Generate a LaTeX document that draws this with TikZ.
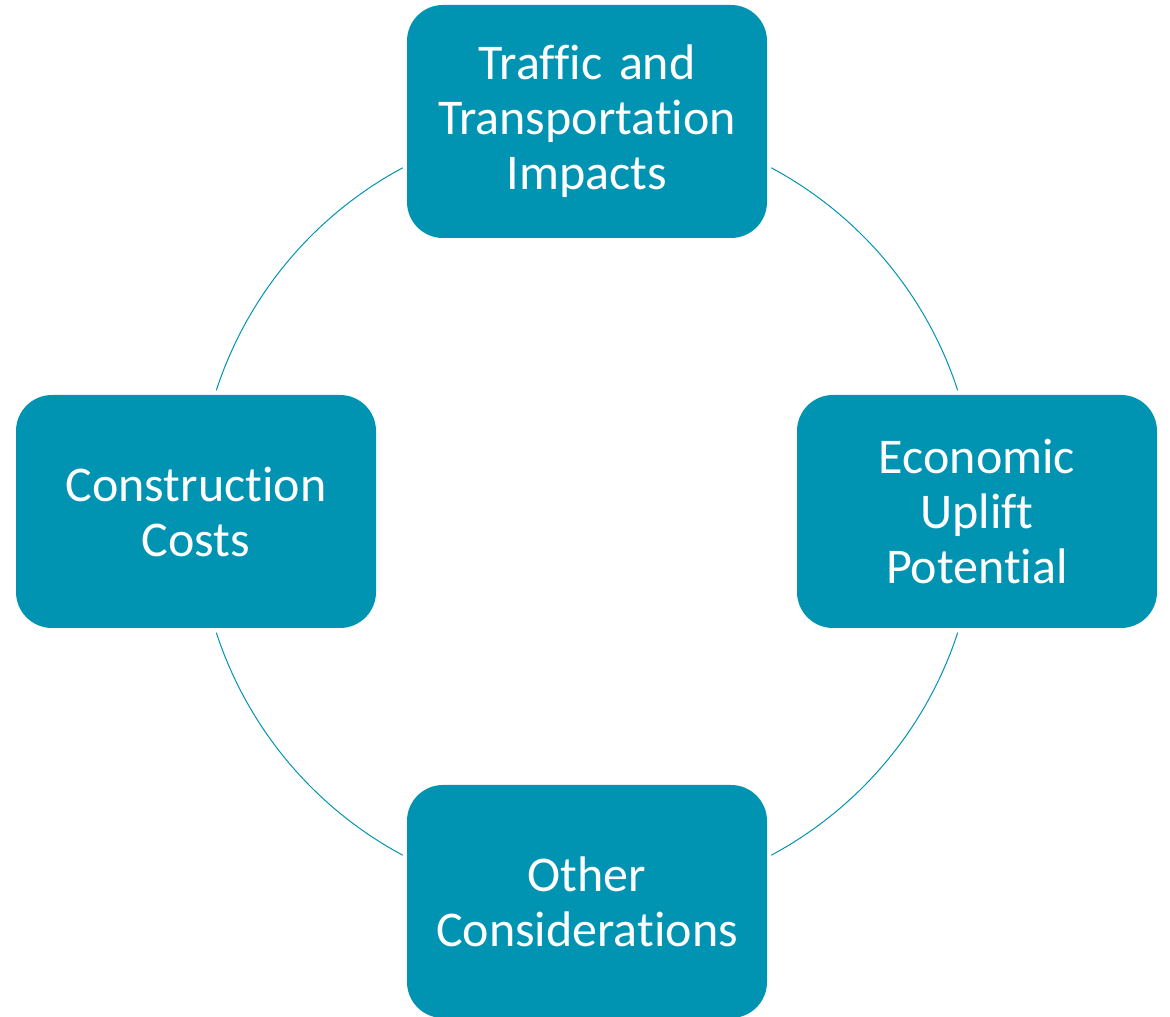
\documentclass[tikz,border=0pt]{standalone}
\usepackage{fontspec}
\setmainfont{Carlito}[Ligatures={NoCommon,NoRare,NoContextual}]
\usetikzlibrary{calc}
\definecolor{boxteal}{RGB}{0,148,178}
\tikzset{
  cyclebox/.style={fill=boxteal, draw=none, rounded corners=36pt,
    minimum width=360pt, minimum height=233pt, text width=350pt,
    align=center, text=white, inner sep=0pt,
    font=\fontsize{50pt}{55pt}\selectfont},
  cyclearc/.style={draw=boxteal, line width=1pt}
}
\begin{document}
\begin{tikzpicture}[x=1pt,y=1pt]
\useasboundingbox (0,0) rectangle (1170,1017);
\coordinate (O) at (587,505.5);
\node[cyclebox] (top) at (587,895.5) {Traffic and\\Transportation\\Impacts};
\node[cyclebox] (right) at (977,505.5) {Economic\\Uplift\\Potential};
\node[cyclebox] (bottom) at (587,115.5) {Other\\Considerations};
\node[cyclebox] (left) at (196,505.5) {Construction\\Costs};
\coordinate (a1) at ($(O)+(118.2:390)$);
\coordinate (a2) at ($(O)+(198.1:390)$);
\coordinate (a3) at ($(O)+(298.2:390)$);
\coordinate (a4) at ($(O)+(18.1:390)$);
\draw[cyclearc] (a1) arc[start angle=118.2, end angle=161.9, radius=390];
\draw[cyclearc] (a2) arc[start angle=198.1, end angle=241.8, radius=390];
\draw[cyclearc] (a3) arc[start angle=298.2, end angle=341.9, radius=390];
\draw[cyclearc] (a4) arc[start angle=18.1, end angle=61.8, radius=390];
\end{tikzpicture}
\end{document}
